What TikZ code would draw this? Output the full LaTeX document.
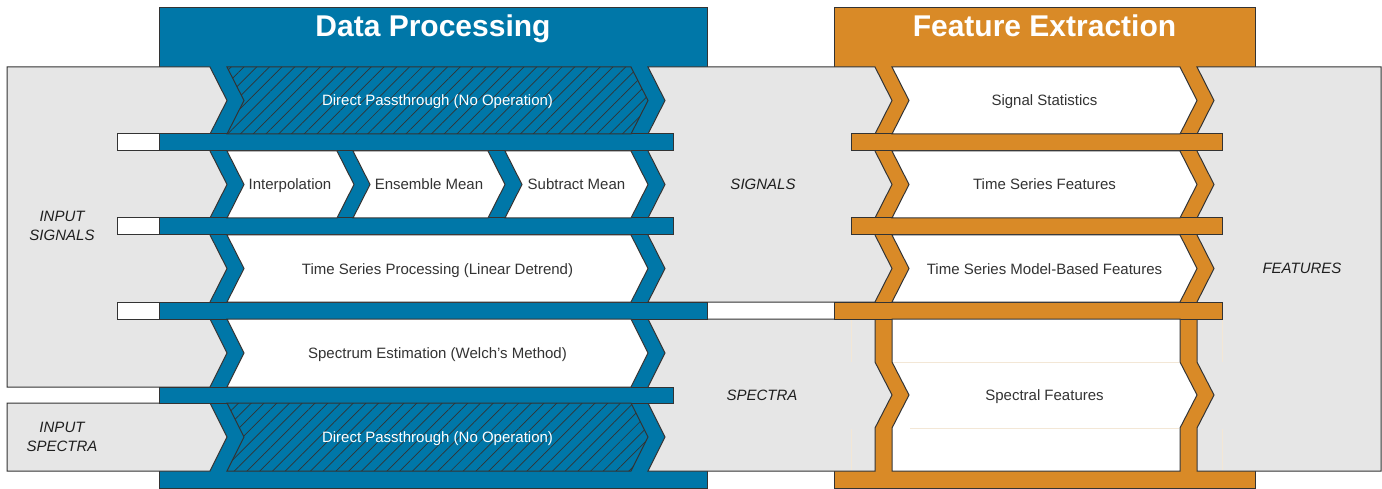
\documentclass[tikz,border=0pt]{standalone}
\usepackage{fontspec}
\setmainfont{Liberation Sans}
\usetikzlibrary{patterns.meta}
\definecolor{dpblue}{HTML}{0077A8}
\definecolor{feorange}{HTML}{D98A27}
\definecolor{panelgray}{HTML}{E6E6E6}
\definecolor{edgec}{HTML}{333333}
\definecolor{txtc}{HTML}{333333}
\definecolor{faintc}{HTML}{F3E7D6}
\newcommand{\chevronbox}[5]{\path[#1] (#2,#4) -- (#3,#4) -- ({#3+17},{(#4+#5)/2}) -- (#3,#5) -- (#2,#5) -- ({#2+17},{(#4+#5)/2}) -- cycle;}
\begin{document}
\begin{tikzpicture}[x=1pt,y=-1pt, line join=miter,
  outline/.style={draw=edgec, line width=1pt},
  graypanel/.style={fill=panelgray, outline},
  whitebox/.style={fill=white, outline},
  hatchbox/.style={pattern={Lines[angle=45,distance=9pt,line width=0.7pt]}, pattern color=edgec},
  bluebar/.style={fill=dpblue, outline},
  orangebar/.style={fill=feorange, outline},
  lbl/.style={font=\fontsize{15}{19}\selectfont, text=txtc, inner sep=0pt, anchor=base},
  wlbl/.style={lbl, text=white},
  itl/.style={font=\fontsize{15}{19}\selectfont\itshape, text=black!88, align=center, inner sep=0pt},
  titlelbl/.style={font=\fontsize{30}{36}\selectfont\bfseries, text=white, inner sep=0pt, anchor=base}]

\useasboundingbox (0,0) rectangle (1382,489);

% main boxes
\draw[fill=dpblue, outline] (159,8) rectangle (707,488);
\draw[fill=feorange, outline] (834,8) rectangle (1255,488);

% grey panels
\draw[graypanel] (7,67) -- (210,67) -- (227,100.5) -- (210,134) -- (210,151) -- (227,184.5) -- (210,218) -- (210,235) -- (227,268.5) -- (210,302) -- (210,319) -- (227,353) -- (210,387) -- (7,387) -- cycle;
\draw[graypanel] (7,403) -- (210,403) -- (227,437) -- (210,471) -- (7,471) -- cycle;
\draw[graypanel] (648,67) -- (875,67) -- (892,100.5) -- (875,134) -- (875,151) -- (892,184.5) -- (875,218) -- (875,235) -- (892,268.5) -- (875,302) -- (648,302) -- (665,268.5) -- (648,235) -- (648,218) -- (665,184.5) -- (648,151) -- (648,134) -- (665,100.5) -- cycle;
\draw[graypanel] (648,319) -- (875,319) -- (875,362) -- (892,395) -- (875,428) -- (875,471) -- (648,471) -- (665,437) -- (648,403) -- (648,387) -- (665,353) -- cycle;
\draw[graypanel] (1197,67) -- (1381,67) -- (1381,471) -- (1197,471) -- (1197,428) -- (1214,395) -- (1197,362) -- (1197,319) -- (1197,302) -- (1214,268.5) -- (1197,235) -- (1197,218) -- (1214,184.5) -- (1197,151) -- (1197,134) -- (1214,100.5) -- cycle;

% faint guide lines
\draw[faintc, line width=0.8pt] (851,320) -- (851,362) (851,429) -- (851,470) (1222,320) -- (1222,362) (1222,429) -- (1222,470);

% left stubs
\foreach \yy in {134,218,302} \draw[whitebox] (117,\yy) rectangle (159,\yy+17);

% bars
\draw[bluebar] (159,134) rectangle (673,151);
\draw[bluebar] (159,218) rectangle (673,235);
\draw[bluebar] (159,302) rectangle (707,319);
\draw[bluebar] (159,387) rectangle (673,403);
\draw[orangebar] (851,134) rectangle (1222,151);
\draw[orangebar] (851,218) rectangle (1222,235);
\draw[orangebar] (834,302) rectangle (1222,319);

% data processing boxes
\chevronbox{fill=dpblue}{227}{631}{67}{134}
\chevronbox{hatchbox}{227}{631}{67}{134}
\chevronbox{outline}{227}{631}{67}{134}
\chevronbox{whitebox}{227}{337}{151}{218}
\chevronbox{whitebox}{353}{488}{151}{218}
\chevronbox{whitebox}{505}{631}{151}{218}
\chevronbox{whitebox}{227}{631}{235}{302}
\chevronbox{whitebox}{227}{631}{319}{387}
\chevronbox{fill=dpblue}{227}{631}{403}{471}
\chevronbox{hatchbox}{227}{631}{403}{471}
\chevronbox{outline}{227}{631}{403}{471}

% feature extraction boxes
\chevronbox{whitebox}{892}{1180}{67}{134}
\chevronbox{whitebox}{892}{1180}{151}{218}
\chevronbox{whitebox}{892}{1180}{235}{302}
\draw[whitebox] (892,319) -- (1180,319) -- (1180,362) -- (1197,395) -- (1180,428) -- (1180,471) -- (892,471) -- (892,428) -- (909,395) -- (892,362) -- cycle;
\draw[faintc, line width=0.8pt] (893,362) -- (1179,362) (910,428) -- (1179,428);

% titles
\node[titlelbl] (tdp) at (433,37) {Data Processing};
\node[titlelbl] (tfe) at (1044.5,37) {Feature Extraction};

% data processing labels
\node[wlbl] (dpa) at (437.5,106) {Direct Passthrough (No Operation)};
\node[lbl] (ip) at (290,190) {Interpolation};
\node[lbl] (em) at (429,190) {Ensemble Mean};
\node[lbl] (sm) at (576.5,190) {Subtract Mean};
\node[lbl] (tsp) at (437.5,274) {Time Series Processing (Linear Detrend)};
\node[lbl] (se) at (437.5,358.5) {Spectrum Estimation (Welch's Method)};
\node[wlbl] (dpb) at (437.5,442.5) {Direct Passthrough (No Operation)};

% feature labels
\node[lbl] (ss) at (1044.5,106) {Signal Statistics};
\node[lbl] (tsf) at (1044.5,190) {Time Series Features};
\node[lbl] (tsm) at (1044.5,274) {Time Series Model-Based Features};
\node[lbl] (sf) at (1044.5,400.5) {Spectral Features};

% italic labels
\node[itl] (insig) at (62,226) {INPUT\\SIGNALS};
\node[itl] (inspec) at (62,437) {INPUT\\SPECTRA};
\node[itl] (sig) at (763,184.5) {SIGNALS};
\node[itl] (spec) at (762,395) {SPECTRA};
\node[itl] (feat) at (1302,268.5) {FEATURES};
\end{tikzpicture}
\end{document}
